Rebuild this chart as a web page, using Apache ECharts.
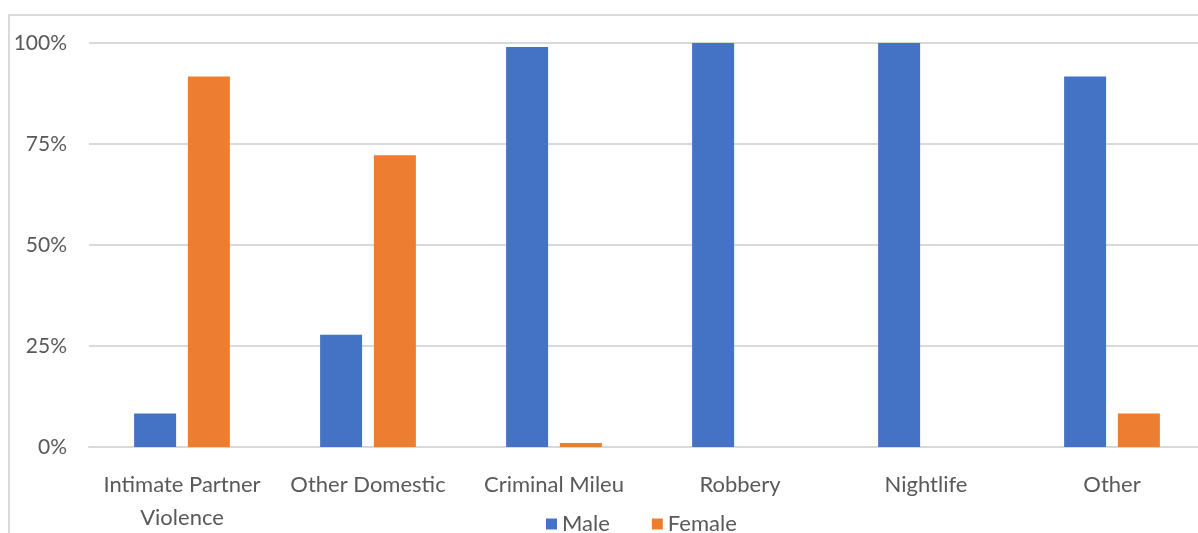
<!DOCTYPE html>
<html><head><meta charset="utf-8">
<script src="https://cdn.jsdelivr.net/npm/echarts@6/dist/echarts.min.js"></script>
<style>html,body{margin:0;padding:0;background:#fff;}#c{width:1198px;height:533px;}</style>
</head><body><div id="c"></div>
<script>
const categories = ['Intimate Partner\nViolence', 'Other Domestic', 'Criminal Mileu', 'Robbery', 'Nightlife', 'Other'];
const male = [8.3, 27.8, 99, 100, 100, 91.7];
const female = [91.7, 72.2, 1, 0, 0, 8.3];
const yTicks = [0, 25, 50, 75, 100];

const chart = echarts.init(document.getElementById('c'));
const font = 'Lato, "Open Sans", sans-serif';
chart.setOption({
  animation: false,
  textStyle: { fontFamily: font },
  graphic: [{ type: 'rect', shape: { x: 9, y: 15, width: 1400, height: 700 }, style: { fill: 'none', stroke: '#d9d9d9', lineWidth: 2 }, silent: true }],
  grid: { left: 89, top: 43, width: 1116, height: 404, outerBoundsMode: 'none', containLabel: false },
  legend: {
    data: ['Male', 'Female'], left: 541, top: 508,
    itemWidth: 11, itemHeight: 11, itemGap: 42, icon: 'rect',
    textStyle: { fontSize: 22, color: '#595959', fontFamily: font }
  },
  xAxis: {
    type: 'category', data: categories,
    axisLine: { lineStyle: { color: '#d9d9d9', width: 2 } },
    axisTick: { show: false },
    axisLabel: { fontSize: 22, color: '#595959', margin: 21, lineHeight: 33, interval: 0, fontFamily: font }
  },
  yAxis: {
    type: 'value', min: 0, max: 100, interval: 25,
    axisLine: { show: false }, axisTick: { show: false },
    splitLine: { lineStyle: { color: '#d9d9d9', width: 2 } },
    axisLabel: { fontSize: 21, color: '#595959', margin: 22, formatter: v => yTicks.includes(v) ? v + '%' : '', fontFamily: font }
  },
  series: [
    { name: 'Male', type: 'bar', data: male, barWidth: 42, barGap: '28%', itemStyle: { color: '#4472c4' } },
    { name: 'Female', type: 'bar', data: female, barWidth: 42, itemStyle: { color: '#ed7d31' } }
  ]
});
</script></body></html>
